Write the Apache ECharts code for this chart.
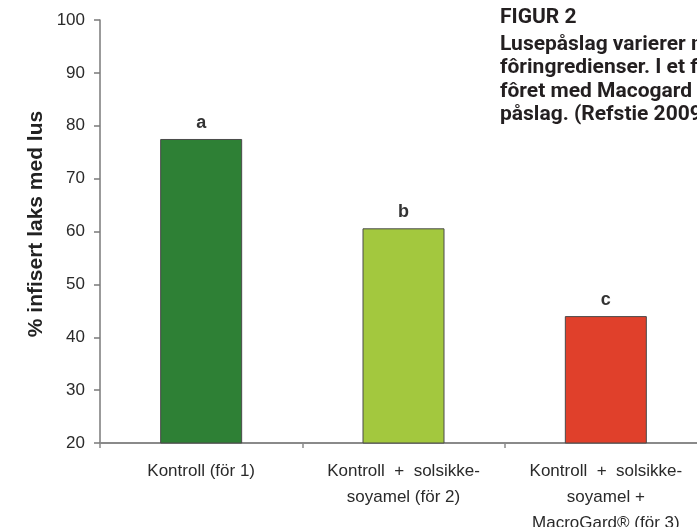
<!DOCTYPE html>
<html>
<head>
<meta charset="utf-8">
<script src="https://cdn.jsdelivr.net/npm/echarts@6/dist/echarts.min.js"></script>
<style>
html,body{margin:0;padding:0;background:#fff;}
#chart{width:697px;height:527px;}
</style>
</head>
<body>
<div id="chart"></div>
<script>
const categories = ['Kontroll (för 1)', 'Kontroll  +  solsikke-\nsoyamel (för 2)', 'Kontroll  +  solsikke-\nsoyamel +\nMacroGard® (för 3)'];
const values = [77.5, 60.6, 44.0];
const letters = ['a', 'b', 'c'];
const barColors = ['#2e8035', '#a3c83e', '#e0402b'];
const yTicks = { min: 20, max: 100, interval: 10 };
const yTitle = '% infisert laks med lus';
const captionTitle = 'FIGUR 2';
const captionLines = ['Lusepåslag varierer med', 'fôringredienser. I et forsøk', 'fôret med Macogard så', 'påslag. (Refstie 2009)'];

const chart = echarts.init(document.getElementById('chart'), null, { renderer: 'canvas' });
const FONT = '"Liberation Sans", Arial, sans-serif';
const CAP_FONT = 'bold 21px Roboto, "Liberation Sans", sans-serif';
const option = {
  animation: false,
  backgroundColor: '#ffffff',
  grid: { left: 100, top: 20, width: 607, height: 423, containLabel: false, outerBoundsMode: 'none' },
  xAxis: {
    type: 'category',
    data: categories,
    axisLine: { lineStyle: { color: '#8a8a8a', width: 2 } },
    axisTick: { show: true, length: 5, lineStyle: { color: '#8a8a8a', width: 1.5 } },
    axisLabel: { color: '#2a2a2a', fontSize: 17, fontFamily: FONT, lineHeight: 26, margin: 15, interval: 0 }
  },
  yAxis: {
    type: 'value',
    min: yTicks.min, max: yTicks.max, interval: yTicks.interval,
    splitLine: { show: false },
    axisLine: { show: true, lineStyle: { color: '#7a7a7a', width: 1.5 } },
    axisTick: { show: true, length: 6, lineStyle: { color: '#7a7a7a', width: 1.5 } },
    axisLabel: { color: '#2a2a2a', fontSize: 17, fontFamily: FONT, margin: 15 }
  },
  series: [{
    type: 'bar',
    data: values.map((v, i) => ({
      value: v,
      itemStyle: { color: barColors[i] },
      label: { formatter: letters[i] }
    })),
    barWidth: 82,
    itemStyle: { borderColor: '#4a4a4a', borderWidth: 1 },
    label: { show: true, position: 'top', distance: 7, color: '#333', fontSize: 18, fontWeight: 'bold', fontFamily: FONT }
  }],
  graphic: [{
    type: 'text',
    x: 36,
    y: 224,
    rotation: Math.PI / 2,
    style: {
      text: yTitle,
      fill: '#222',
      font: 'bold 21px "Liberation Sans", Arial, sans-serif',
      align: 'center',
      verticalAlign: 'middle'
    }
  }, {
    type: 'text',
    x: 500,
    y: 6,
    style: { text: captionTitle, fill: '#231f20', font: CAP_FONT, lineHeight: 24 }
  }, {
    type: 'text',
    x: 500,
    y: 33,
    style: { text: captionLines.join('\n'), fill: '#231f20', font: CAP_FONT, lineHeight: 23.3 }
  }]
};
chart.setOption(option);
</script>
</body>
</html>
